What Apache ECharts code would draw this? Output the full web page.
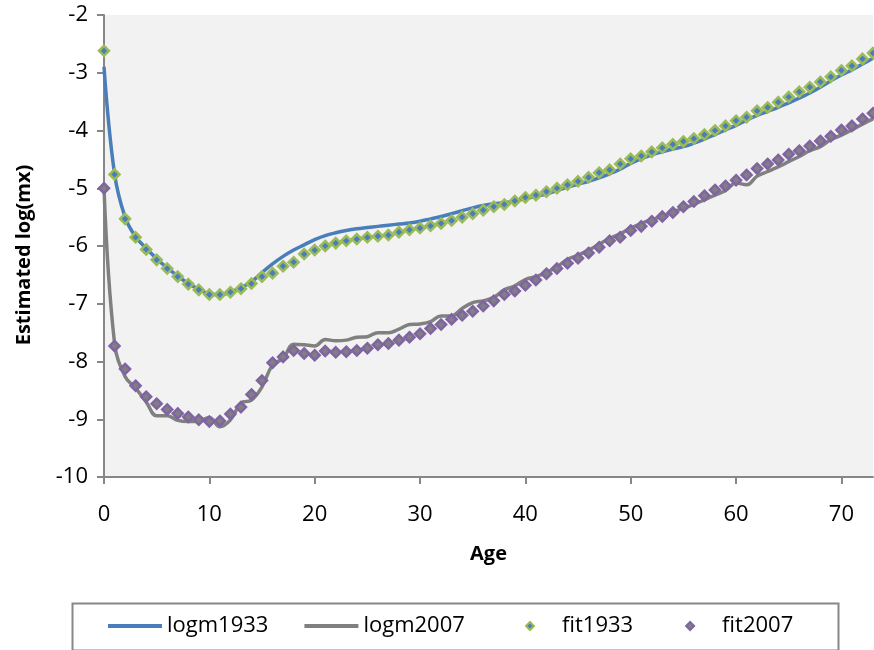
<!DOCTYPE html>
<html>
<head>
<meta charset="utf-8">
<script src="https://cdn.jsdelivr.net/npm/echarts@6/dist/echarts.min.js"></script>
<style>
html,body{margin:0;padding:0;background:#fff;}
#chart{width:874px;height:650px;}
</style>
</head>
<body>
<div id="chart"></div>
<script>
// Ages 0..73
const ages = [];
for (let a = 0; a <= 73; a++) ages.push(a);

const logm1933 = [-2.90,-4.75,-5.50,-5.84,-6.04,-6.22,-6.38,-6.52,-6.65,-6.75,
  -6.83,-6.84,-6.80,-6.72,-6.62,-6.46,-6.31,-6.18,-6.07,-5.98,
  -5.89,-5.82,-5.77,-5.73,-5.70,-5.68,-5.66,-5.64,-5.62,-5.60,
  -5.57,-5.53,-5.49,-5.44,-5.39,-5.34,-5.30,-5.27,-5.25,-5.22,
  -5.18,-5.14,-5.10,-5.04,-4.98,-4.93,-4.88,-4.82,-4.75,-4.67,
  -4.57,-4.49,-4.42,-4.37,-4.32,-4.28,-4.22,-4.15,-4.07,-3.99,
  -3.91,-3.82,-3.74,-3.67,-3.60,-3.52,-3.44,-3.35,-3.25,-3.14,
  -3.04,-2.95,-2.85,-2.75];

const logm2007 = [-5.00,-7.68,-8.26,-8.46,-8.70,-8.94,-8.94,-9.02,-9.04,-9.03,
  -8.97,-9.13,-9.01,-8.72,-8.67,-8.44,-8.06,-7.95,-7.70,-7.71,
  -7.73,-7.62,-7.64,-7.63,-7.58,-7.57,-7.50,-7.50,-7.44,-7.36,
  -7.35,-7.31,-7.21,-7.21,-7.08,-6.98,-6.95,-6.89,-6.76,-6.69,
  -6.58,-6.53,-6.46,-6.36,-6.23,-6.16,-6.07,-5.97,-5.87,-5.79,
  -5.69,-5.61,-5.54,-5.49,-5.41,-5.35,-5.28,-5.20,-5.12,-5.04,
  -4.91,-4.94,-4.79,-4.71,-4.63,-4.54,-4.45,-4.35,-4.28,-4.16,
  -4.08,-3.99,-3.89,-3.80];

const fit1933 = [-2.62,-4.76,-5.53,-5.85,-6.06,-6.24,-6.39,-6.53,-6.66,-6.76,
  -6.84,-6.84,-6.80,-6.74,-6.65,-6.53,-6.47,-6.35,-6.28,-6.14,
  -6.07,-6.00,-5.95,-5.91,-5.88,-5.85,-5.83,-5.81,-5.76,-5.72,
  -5.69,-5.65,-5.61,-5.56,-5.50,-5.44,-5.38,-5.32,-5.28,-5.22,
  -5.16,-5.12,-5.06,-5.00,-4.94,-4.88,-4.81,-4.73,-4.68,-4.58,
  -4.49,-4.44,-4.37,-4.30,-4.24,-4.19,-4.14,-4.07,-4.00,-3.92,
  -3.83,-3.77,-3.66,-3.60,-3.51,-3.42,-3.33,-3.25,-3.16,-3.07,
  -2.96,-2.88,-2.76,-2.66];

const fit2007 = [-5.00,-7.73,-8.13,-8.42,-8.61,-8.73,-8.83,-8.90,-8.96,-9.01,
  -9.04,-9.03,-8.91,-8.79,-8.57,-8.33,-8.02,-7.92,-7.81,-7.86,
  -7.89,-7.82,-7.84,-7.83,-7.81,-7.77,-7.71,-7.69,-7.63,-7.58,
  -7.52,-7.43,-7.36,-7.27,-7.20,-7.13,-7.04,-6.95,-6.84,-6.78,
  -6.68,-6.59,-6.48,-6.39,-6.30,-6.21,-6.12,-6.02,-5.91,-5.85,
  -5.73,-5.66,-5.57,-5.49,-5.42,-5.32,-5.23,-5.13,-5.03,-4.96,
  -4.86,-4.77,-4.66,-4.58,-4.51,-4.41,-4.35,-4.27,-4.18,-4.10,
  -3.99,-3.92,-3.80,-3.70];

const seriesNames = ['logm1933','logm2007','fit1933','fit2007'];
const xTitle = 'Age';
const yTitle = 'Estimated log(mx)';

function pairs(vals){ return ages.map((a,i)=>[a, vals[i]]); }

const FONT = "'Open Sans', 'Noto Sans', sans-serif";
const chart = echarts.init(document.getElementById('chart'), null, {renderer:'canvas'});

chart.setOption({
  animation: false,
  backgroundColor: '#ffffff',
  textStyle: {fontFamily: FONT},
  grid: {left: 104, right: 1, top: 15, bottom: 173, show: true,
         backgroundColor: '#F2F2F2', borderWidth: 0},
  xAxis: {
    type: 'value', min: 0, max: 73, interval: 10,
    name: xTitle, nameLocation: 'middle', nameGap: 67,
    nameTextStyle: {fontFamily: FONT, fontSize: 20, fontWeight: 'bold', color: '#000'},
    axisLine: {show: true, onZero: false, lineStyle: {color: '#878787', width: 2}},
    axisTick: {show: true, inside: false, length: 7, lineStyle: {color: '#878787', width: 2}},
    axisLabel: {fontFamily: FONT, fontSize: 22, color: '#000', margin: 27, showMaxLabel: false},
    splitLine: {show: false}
  },
  yAxis: {
    type: 'value', min: -10, max: -2, interval: 1,
    name: yTitle, nameLocation: 'middle', nameGap: 70, nameRotate: 90,
    nameTextStyle: {fontFamily: FONT, fontSize: 20, fontWeight: 'bold', color: '#000', padding: [0, 18, 0, 0]},
    axisLine: {show: true, onZero: false, lineStyle: {color: '#878787', width: 2}},
    axisTick: {show: true, inside: false, length: 7, lineStyle: {color: '#878787', width: 2}},
    axisLabel: {fontFamily: FONT, fontSize: 22, color: '#000', margin: 16},
    splitLine: {show: false}
  },
  legend: [{
    data: [{name: seriesNames[0], icon: 'rect'}, {name: seriesNames[1], icon: 'rect'}],
    left: 103, top: 610, itemWidth: 54, itemHeight: 4, itemGap: 36,
    textStyle: {fontFamily: FONT, fontSize: 22, color: '#000'}
  }, {
    data: [{name: seriesNames[2], icon: 'diamond'}, {name: seriesNames[3], icon: 'diamond'}],
    left: 520, top: 610, itemWidth: 8, itemHeight: 8, itemGap: 52,
    textStyle: {fontFamily: FONT, fontSize: 22, color: '#000', padding: [0, 0, 0, 23]}
  }],
  graphic: [{
    type: 'rect', left: 70, top: 601, z: -1,
    shape: {width: 766, height: 47},
    style: {fill: 'none', stroke: '#878787', lineWidth: 2}
  }],
  series: [
    {name: seriesNames[0], type: 'line', data: pairs(logm1933), smooth: 0.4,
     symbol: 'none', lineStyle: {color: '#4A7EBB', width: 3.5}, itemStyle: {color: '#4A7EBB'}, z: 2},
    {name: seriesNames[1], type: 'line', data: pairs(logm2007), smooth: 0.4,
     symbol: 'none', lineStyle: {color: '#808080', width: 3.5}, itemStyle: {color: '#808080'}, z: 2},
    {name: seriesNames[2], type: 'scatter', data: pairs(fit1933), symbol: 'diamond', symbolSize: 10,
     itemStyle: {color: '#4A7EBB', borderColor: '#9BBB59', borderWidth: 2.5, opacity: 1}, z: 3},
    {name: seriesNames[3], type: 'scatter', data: pairs(fit2007), symbol: 'diamond', symbolSize: 10,
     itemStyle: {color: '#808080', borderColor: '#8064A2', borderWidth: 2.5, opacity: 1}, z: 3}
  ]
});
</script>
</body>
</html>
